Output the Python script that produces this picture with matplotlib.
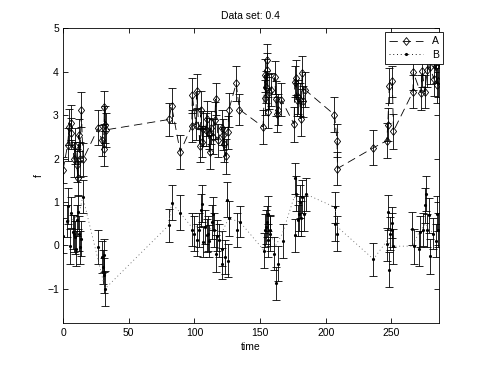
import matplotlib
matplotlib.use("Agg")
import matplotlib.pyplot as plt
from matplotlib.lines import Line2D

plt.rcParams["font.family"] = ["Liberation Sans", "DejaVu Sans"]
plt.rcParams["lines.scale_dashes"] = False

# ------------------------------------------------------------------
# Data
# ------------------------------------------------------------------
tA = [0, 3.5, 4.6, 6.1, 6.3, 8.4, 9.4, 10.6, 11.2, 11.9,
      12.9, 13.9, 15.2, 26.9, 29.4, 30.9, 31.4, 31.6, 32.4, 80.6,
      82.6, 89.2, 98.0, 98.4, 101.1, 101.6, 104.2, 104.9, 106.0, 106.7,
      108.5, 109.5, 110.8, 111.5, 112.3, 114.3, 115.6, 116.1, 118.1, 120.7,
      121.4, 122.9, 124.0, 125.5, 126.2, 131.8, 134.3, 152.3, 153.6, 154.1,
      154.6, 155.4, 155.6, 156.4, 156.9, 158.2, 161.2, 162.0, 162.5, 163.8,
      166.3, 175.9, 176.4, 177.2, 178.0, 179.2, 180.2, 181.0, 182.0, 183.0,
      184.0, 206.6, 208.6, 208.9, 236.3, 246.4, 247.2, 248.4, 250.7, 251.5,
      266.4, 266.6, 272.2, 273.5, 275.3, 277.3, 279.1, 282.4, 283.9, 284.9,
      285.5]
fA = [1.73, 2.32, 2.73, 2.83, 2.58, 1.98, 2.29, 1.84, 1.54, 2.54,
      1.98, 3.13, 1.98, 2.71, 2.42, 2.23, 3.18, 2.78, 2.66, 2.90,
      3.22, 2.15, 2.75, 3.46, 2.78, 3.56, 2.29, 3.13, 2.39, 2.69,
      2.66, 2.92, 2.58, 2.15, 2.71, 2.50, 2.88, 3.37, 2.42, 2.71,
      2.55, 2.33, 2.05, 2.61, 3.12, 3.73, 3.13, 2.73, 3.92, 3.40,
      3.65, 4.27, 4.03, 3.07, 3.54, 3.59, 3.87, 3.38, 3.02, 3.13,
      3.35, 2.79, 3.77, 3.86, 3.35, 3.42, 3.36, 2.92, 3.98, 3.32,
      3.59, 3.01, 2.41, 1.77, 2.25, 2.41, 2.78, 3.68, 3.78, 2.63,
      3.54, 3.99, 3.52, 4.02, 3.54, 4.04, 4.12, 3.83, 4.14, 3.69,
      3.79]
eA = [0.30, 0.38, 0.42, 0.40, 0.36, 0.40, 0.42, 0.38, 0.40, 0.36,
      0.40, 0.40, 0.38, 0.40, 0.36, 0.40, 0.38, 0.42, 0.40, 0.38,
      0.40, 0.40, 0.38, 0.40, 0.36, 0.40, 0.38, 0.42, 0.36, 0.40,
      0.38, 0.40, 0.36, 0.40, 0.38, 0.40, 0.42, 0.36, 0.38, 0.40,
      0.36, 0.40, 0.40, 0.38, 0.40, 0.40, 0.36, 0.40, 0.38, 0.40,
      0.36, 0.38, 0.40, 0.36, 0.40, 0.38, 0.38, 0.40, 0.40, 0.36,
      0.38, 0.40, 0.36, 0.40, 0.38, 0.40, 0.38, 0.40, 0.38, 0.36,
      0.40, 0.40, 0.38, 0.38, 0.40, 0.40, 0.38, 0.40, 0.36, 0.40,
      0.38, 0.40, 0.40, 0.36, 0.38, 0.40, 0.40, 0.38, 0.40, 0.40,
      0.36]

tB = [0.3, 3.0, 4.1, 5.6, 6.3, 7.6, 8.4, 9.1, 9.9, 10.6,
      11.4, 12.2, 12.9, 13.7, 15.0, 26.9, 29.9, 30.7, 31.2, 31.4,
      31.9, 80.4, 82.6, 89.2, 98.4, 99.9, 101.6, 103.7, 104.7, 105.7,
      106.7, 107.7, 109.3, 110.3, 111.3, 113.3, 114.3, 115.1, 116.1, 117.1,
      118.9, 120.9, 121.2, 123.2, 124.7, 125.5, 126.0, 132.1, 134.6, 153.2,
      154.0, 154.5, 155.2, 155.7, 156.4, 157.2, 157.9, 160.7, 162.0, 163.8,
      167.1, 176.2, 176.7, 177.7, 178.9, 179.7, 180.2, 181.0, 181.7, 183.3,
      184.8, 206.8, 207.4, 208.9, 236.3, 246.9, 247.4, 248.2, 249.2, 250.2,
      250.7, 251.2, 265.9, 267.2, 271.2, 271.9, 274.0, 275.3, 276.3, 277.3,
      278.3, 279.6, 281.6, 283.9, 284.9, 285.5]
fB = [0.22, 0.56, 0.91, -0.02, 0.75, 0.31, 0.27, 0.18, -0.08, 0.58,
      0.77, 0.27, -0.04, 0.15, 1.12, -0.04, -0.27, -0.50, -0.23, -0.69,
      -1.00, 0.46, 0.98, 0.75, 0.36, 0.27, 0.12, 0.35, 0.81, 0.96,
      0.08, 0.42, 0.23, 0.27, 0.10, 0.54, 0.73, 0.35, -0.19, 0.22,
      0.12, -0.08, -0.42, -0.27, 1.05, -0.36, 0.62, 0.35, 0.54, -0.12,
      0.35, 0.42, 0.54, 0.12, 0.73, 0.35, 0.27, -0.19, -0.88, -0.42,
      0.10, 1.54, 0.23, 1.19, 0.58, 0.73, 1.00, 0.62, 1.12, 0.73,
      1.18, 0.88, 0.50, 0.27, -0.32, 0.02, 0.76, -0.56, 0.27, 0.35,
      0.52, -0.02, 0.38, -0.02, -0.08, 0.31, 0.36, 0.92, 1.19, 0.35,
      0.69, -0.25, 0.27, 0.10, 0.73, 0.35]
eB = [0.40, 0.38, 0.42, 0.40, 0.36, 0.40, 0.42, 0.38, 0.40, 0.36,
      0.40, 0.40, 0.38, 0.40, 0.38, 0.40, 0.36, 0.40, 0.38, 0.40,
      0.40, 0.38, 0.40, 0.40, 0.38, 0.40, 0.36, 0.40, 0.38, 0.42,
      0.36, 0.40, 0.38, 0.40, 0.36, 0.40, 0.38, 0.40, 0.42, 0.36,
      0.38, 0.40, 0.36, 0.40, 0.40, 0.38, 0.40, 0.40, 0.36, 0.40,
      0.38, 0.40, 0.36, 0.38, 0.40, 0.36, 0.40, 0.38, 0.38, 0.40,
      0.40, 0.36, 0.38, 0.40, 0.36, 0.40, 0.38, 0.40, 0.38, 0.40,
      0.38, 0.36, 0.40, 0.40, 0.38, 0.38, 0.40, 0.40, 0.38, 0.40,
      0.36, 0.40, 0.38, 0.40, 0.40, 0.36, 0.38, 0.40, 0.40, 0.38,
      0.40, 0.40, 0.36, 0.38, 0.40, 0.40]

# dotted trend line of series B
tB_line = [0, 4, 8, 12, 15, 32, 80.4, 82.6, 89.2, 98.4, 104, 110, 116,
           121, 126, 134.6, 152.5, 157, 162, 167, 176, 180, 184.8, 206.8,
           209, 236.3, 246.5, 251, 266, 271, 276, 281, 285.7]
fB_line = [0.45, 0.55, 0.6, 0.7, 1.12, -1.0, 0.46, 0.98, 0.75, 0.4, 0.45,
           0.4, 0.35, 0.3, 0.62, 0.54, -0.1, 0.3, 0.0, 0.27, 1.12, 0.95,
           1.18, 0.88, 0.42, -0.32, 0.1, -0.02, -0.02, 0.3, 0.5, 0.3, 0.35]

# ------------------------------------------------------------------
# Plot
# ------------------------------------------------------------------
diamond = [(0, 1), (0.8, 0), (0, -1), (-0.8, 0), (0, 1)]
fs = 7.5
lw = 0.6

fig = plt.figure(figsize=(4.85, 3.65), dpi=100)
ax = fig.add_axes([0.13, 0.114, 0.7746, 0.8082])

ax.errorbar(tA, fA, yerr=eA, fmt="none", ecolor="k", elinewidth=lw,
            capsize=2.7, capthick=lw)
ax.plot(tA, fA, color="k", lw=lw, dashes=(6, 3.5), marker=diamond, ms=5.6,
        mfc="none", mec="k", mew=lw)

ax.errorbar(tB, fB, yerr=eB, fmt=".", color="k", ms=2.5, ecolor="k",
            elinewidth=lw, capsize=2.7, capthick=lw)
ax.plot(tB_line, fB_line, color="0.4", lw=lw, dashes=(0.7, 2.0))

ax.set_xlim(0, 286)
ax.set_ylim(-1.8, 5)
ax.set_xticks([0, 50, 100, 150, 200, 250])
ax.set_yticks([-1, 0, 1, 2, 3, 4, 5])
ax.tick_params(direction="in", top=True, right=True, length=3.5, width=lw,
               labelsize=fs, pad=3)
for s in ax.spines.values():
    s.set_linewidth(lw)

ax.set_title("Data set: 0.4", fontsize=fs, pad=6.5)
ax.set_xlabel("time", fontsize=fs, labelpad=3)
ax.set_ylabel("f", fontsize=fs, labelpad=2)

handles = [
    Line2D([], [], color="k", lw=lw, dashes=(6, 3.5), marker=diamond, ms=5.6,
           mfc="none", mec="k", mew=lw),
    Line2D([], [], color="k", lw=lw, dashes=(0.7, 2.0), marker=".", ms=2.5),
]
leg = ax.legend(handles, ["A", "B"], loc="upper right",
                bbox_to_anchor=(1.011, 0.987), borderaxespad=0,
                fontsize=fs, fancybox=False, framealpha=1, edgecolor="k",
                handlelength=3.3, handletextpad=0.8, borderpad=0.4,
                labelspacing=0.35)
leg.get_frame().set_linewidth(lw)

fig.savefig("out.png", dpi=100)
